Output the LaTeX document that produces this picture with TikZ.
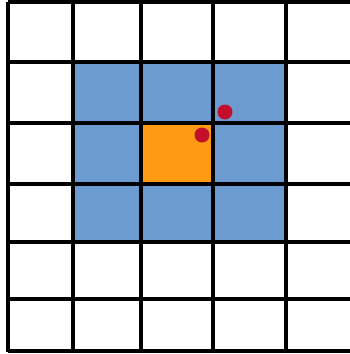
\documentclass[tikz,border=0pt]{standalone}
\usepackage{tikz}
\usepackage{xcolor}
\definecolor{cellblue}{HTML}{6C9BCF}
\definecolor{cellorange}{HTML}{FF9A14}
\definecolor{dotred}{HTML}{C40F2A}

\begin{document}
\begin{tikzpicture}[x=0.75pt, y=-0.75pt,
    gridline/.style={line width=2.4pt, color=black},
    dotmark/.style={fill=dotred}]
      \useasboundingbox (0,0) rectangle (350,354);
      % neighbourhood and centre cell
      \fill[cellblue] (73,62) rectangle (286,242);
      \fill[cellorange] (141,123) rectangle (213,184);
      % grid
      \foreach \gx in {8,73,141,213,286}{
        \draw[gridline] (\gx,2) -- (\gx,352);
      }
      \foreach \gy in {2,62,123,184,242,299,351}{
        \draw[gridline] (8,\gy) -- (350,\gy);
      }
      % points
      \fill[dotmark] (225,112) circle (7.5);
      \fill[dotmark] (202,135) circle (7.5);
    \end{tikzpicture}
\end{document}
